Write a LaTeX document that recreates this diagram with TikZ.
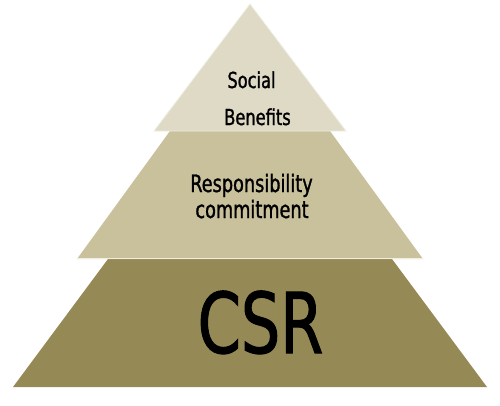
\documentclass[tikz,border=0pt]{standalone}
\usepackage{fontspec}
\setmainfont{DejaVu Sans Condensed}[FakeStretch=0.82, FakeBold=1.2]
\definecolor{toplayer}{RGB}{222,218,198}
\definecolor{midlayer}{RGB}{200,193,156}
\definecolor{botlayer}{RGB}{149,138,85}
\definecolor{edgelight}{RGB}{240,237,225}
\begin{document}
\begin{tikzpicture}[x=1pt,y=-1pt,
  layertext/.style={text=black, align=center, inner sep=0pt}]
\useasboundingbox (0,0) rectangle (500,405);
% bottom layer
\fill[botlayer] (108,259) -- (392,259) -- (487,387) -- (13,387) -- cycle;
% middle layer
\fill[midlayer] (170,131) -- (330,131) -- (423,259) -- (77,259) -- cycle;
\draw[edgelight, line width=0.8pt] (77,258.5) -- (423,258.5);
% top layer
\fill[toplayer, draw=edgelight, line width=0.8pt] (250,4) -- (346,131) -- (154,131) -- cycle;
% texts
\node[layertext, font=\fontsize{22}{22}\selectfont, anchor=base] (social) at (251.5,88) {Social};
\node[layertext, font=\fontsize{22}{22}\selectfont, anchor=base] (benefits) at (257.5,125) {Benefits};
\node[layertext, font=\fontsize{24}{24}\selectfont, anchor=base] (resp) at (251.5,192) {Responsibility};
\node[layertext, font=\fontsize{24}{24}\selectfont, anchor=base] (commit) at (252,218) {commitment};
\node[layertext, font=\fontsize{84}{84}\selectfont, anchor=base] (csr) at (260.5,353) {CSR};
\end{tikzpicture}
\end{document}
